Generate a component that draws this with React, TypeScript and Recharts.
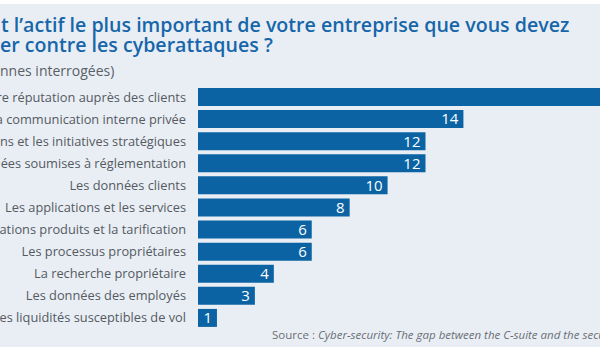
import React from 'react'
import { BarChart, Bar, XAxis, YAxis, LabelList } from 'recharts'

// categories, top to bottom (left part of long labels is cropped in the reference)
const categories = [
  'Notre réputation auprès des clients',
  'La communication interne privée',
  'Les acquisitions et les initiatives stratégiques',
  'Les données soumises à réglementation',
  'Les données clients',
  'Les applications et les services',
  'Les informations produits et la tarification',
  'Les processus propriétaires',
  'La recherche propriétaire',
  'Les données des employés',
  'Les liquidités susceptibles de vol',
]
// % of respondents (first value is cut off at the right edge, estimated)
const values = [23, 14, 12, 12, 10, 8, 6, 6, 4, 3, 1]

const data = categories.map((name, i) => ({ name, value: values[i] }))

const BLUE = '#0b63a3'
const FONT = '"Open Sans", sans-serif'

export default function App() {
  return (
    <div style={{ position: 'absolute', left: 0, top: 0, width: 600, height: 358, overflow: 'hidden', background: '#fff' }}>
      <div style={{ position: 'absolute', left: 0, top: 4, width: 600, height: 343, background: '#e9eef5' }} />
      <svg width={600} height={358} style={{ position: 'absolute', left: 0, top: 0 }}>
        <text x={1} y={32} fill="#1766a9" fontFamily={FONT} fontWeight={600} fontSize={19.6}>
          t l’actif le plus important de votre entreprise que vous devez
        </text>
        <text x={0} y={52} fill="#1766a9" fontFamily={FONT} fontWeight={600} fontSize={19.6}>
          er contre les cyberattaques ?
        </text>
        <text x={0} y={76} fill="#5a5f66" fontFamily={FONT} fontSize={14}>
          nnes interrogées)
        </text>
        <text x={272} y={339} fill="#6a6e74" fontFamily={FONT} fontSize={11.5}>
          Source : <tspan fontStyle="italic">Cyber-security: The gap between the C-suite and the security team</tspan>
        </text>
      </svg>
      <div style={{ position: 'absolute', left: -400, top: 0 }}>
        <BarChart
          width={1100}
          height={358}
          data={data}
          layout="vertical"
          margin={{ top: 86, right: 47, bottom: 29, left: 0 }}
        >
          <XAxis type="number" domain={[0, 24]} hide />
          <YAxis
            type="category"
            dataKey="name"
            width={598}
            axisLine={false}
            tickLine={false}
            tickMargin={6}
            interval={0}
            tick={{ fill: '#555a61', fontSize: 12.8, fontFamily: FONT }}
          />
          <Bar dataKey="value" fill={BLUE} barSize={18} isAnimationActive={false}>
            <LabelList dataKey="value" position="insideRight" offset={5} fill="#fff" fontSize={15} fontFamily={FONT} />
          </Bar>
        </BarChart>
      </div>
    </div>
  )
}
